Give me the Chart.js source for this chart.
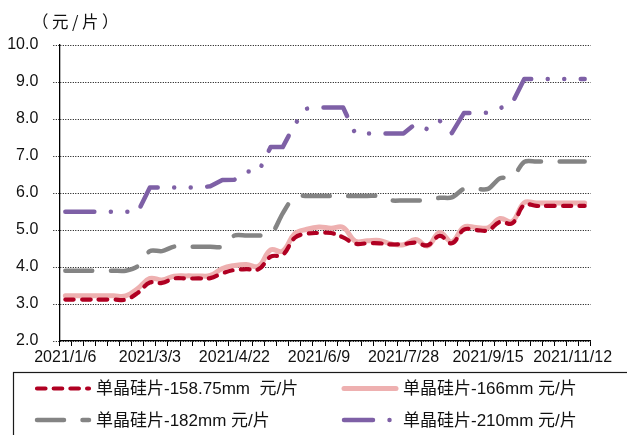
<!DOCTYPE html>
<html>
<head>
<meta charset="utf-8">
<script src="https://cdn.jsdelivr.net/npm/chart.js@4.4.1/dist/chart.umd.min.js"></script>
<style>
  html, body { margin: 0; padding: 0; background: #ffffff; }
  #wrap { width: 627px; height: 435px; position: relative; }
</style>
</head>
<body>
<div id="wrap"><canvas id="c" width="627" height="435"></canvas></div>
<script>
// Weekly quote dates
const dates = [
  '2021/1/6', '2021/1/13', '2021/1/20', '2021/1/27', '2021/2/3', '2021/2/10', '2021/2/24',
  '2021/3/3', '2021/3/10', '2021/3/17', '2021/3/24', '2021/3/31', '2021/4/7', '2021/4/14',
  '2021/4/22', '2021/4/28', '2021/5/6', '2021/5/12', '2021/5/19', '2021/5/26', '2021/6/2',
  '2021/6/9', '2021/6/16', '2021/6/23', '2021/6/30', '2021/7/7', '2021/7/14', '2021/7/21',
  '2021/7/28', '2021/8/4', '2021/8/11', '2021/8/18', '2021/8/25', '2021/9/1', '2021/9/8',
  '2021/9/15', '2021/9/22', '2021/9/29', '2021/10/13', '2021/10/20', '2021/10/27', '2021/11/3',
  '2021/11/12', '2021/11/17'
];
// every 7th date is printed on the axis
const labelStep = 7;

// y axis range (元/片)
const yMin = 2;
const yMax = 10;
const yStep = 1;

// mono-crystalline wafer prices, 元/片
const wafer158 = [
  3.12, 3.12, 3.12, 3.12, 3.12, 3.12, 3.30, 3.58, 3.57, 3.69, 3.69, 3.69, 3.70, 3.83,
  3.92, 3.94, 3.94, 4.28, 4.33, 4.79, 4.90, 4.92, 4.92, 4.80, 4.63, 4.64, 4.64, 4.61,
  4.62, 4.66, 4.59, 4.84, 4.64, 5.01, 5.00, 4.99, 5.22, 5.18, 5.68, 5.65, 5.65, 5.65,
  5.65, 5.65
];
const wafer166 = [
  3.22, 3.22, 3.22, 3.22, 3.22, 3.22, 3.42, 3.69, 3.65, 3.75, 3.76, 3.76, 3.77, 3.96,
  4.04, 4.07, 4.02, 4.46, 4.43, 4.90, 5.02, 5.08, 5.05, 5.07, 4.70, 4.71, 4.72, 4.62,
  4.60, 4.74, 4.57, 4.93, 4.68, 5.08, 5.07, 5.06, 5.31, 5.23, 5.74, 5.73, 5.73, 5.73,
  5.73, 5.73
];
const wafer182 = [
  3.90, 3.90, 3.90, 3.90, 3.90, 3.90, 4.02, 4.43, 4.43, 4.55, 4.55, 4.55, 4.55, 4.55,
  4.85, 4.85, 4.85, 4.87, 5.45, 5.91, 5.92, 5.92, 5.92, 5.92, 5.92, 5.92, 5.92, 5.80,
  5.80, 5.80, 5.80, 5.87, 5.88, 6.11, 6.11, 6.11, 6.40, 6.42, 6.84, 6.85, 6.85, 6.85,
  6.85, 6.85
];
const wafer210 = [
  5.49, 5.49, 5.49, 5.49, 5.49, 5.49, 5.49, 6.15, 6.15, 6.15, 6.15, 6.15, 6.18, 6.35,
  6.36, 6.58, 6.58, 7.24, 7.24, 7.86, 8.28, 8.31, 8.31, 8.31, 7.61, 7.61, 7.61, 7.61,
  7.61, 7.87, 7.72, 7.95, 7.62, 8.16, 8.16, 8.17, 8.29, 8.43, 9.08, 9.08, 9.08, 9.08,
  9.08, 9.08
];

const seriesNames = [
  '单晶硅片-158.75mm  元/片',
  '单晶硅片-166mm 元/片',
  '单晶硅片-182mm 元/片',
  '单晶硅片-210mm 元/片'
];
const unitTitle = '（元/片）';

const LATIN = '"Liberation Sans", Arial, "Noto Sans CJK SC", sans-serif';

// unit caption above the value axis and the boxed two-column key below the plot
const decorations = {
  id: 'decorations',
  afterDraw(chart) {
    const ctx = chart.ctx;
    ctx.save();
    ctx.fillStyle = '#111';
    ctx.font = '16.5px "Noto Sans CJK SC", sans-serif';
    ctx.textBaseline = 'middle';
    ctx.textAlign = 'left';
    ctx.letterSpacing = '3.5px';
    ctx.fillText(unitTitle, 32, 22);
    ctx.letterSpacing = '0px';

    ctx.strokeStyle = '#1a1a1a';
    ctx.lineWidth = 1.2;
    ctx.setLineDash([]);
    ctx.strokeRect(13.5, 372.5, 660, 80);

    const cols = [35, 342];
    const rows = [388.5, 420];
    chart.data.datasets.forEach((ds, i) => {
      const x = cols[i % 2];
      const y = rows[Math.floor(i / 2)];
      ctx.beginPath();
      ctx.setLineDash(ds.borderDash || []);
      ctx.lineDashOffset = 0;
      ctx.lineCap = ds.borderCapStyle || 'butt';
      ctx.lineWidth = ds.borderWidth;
      ctx.strokeStyle = ds.borderColor;
      ctx.moveTo(x + 2, y);
      ctx.lineTo(x + 54, y);
      ctx.stroke();
      ctx.setLineDash([]);
      ctx.fillStyle = '#111';
      ctx.font = '17px ' + LATIN;
      ctx.textBaseline = 'middle';
      ctx.fillText(ds.label, x + 61, y + 1);
    });
    ctx.restore();
  }
};

Chart.defaults.font.family = LATIN;
Chart.defaults.color = '#111';

new Chart(document.getElementById('c'), {
  type: 'line',
  data: {
    labels: dates,
    datasets: [
      {
        label: seriesNames[0], data: wafer158,
        borderColor: 'rgb(176,0,34)', borderWidth: 4.2,
        borderDash: [8.5, 8.2], borderCapStyle: 'round', borderJoinStyle: 'round',
        tension: 0.4, pointRadius: 0, fill: false
      },
      {
        label: seriesNames[1], data: wafer166,
        borderColor: 'rgb(238,176,176)', borderWidth: 5,
        borderCapStyle: 'round', borderJoinStyle: 'round',
        tension: 0.4, pointRadius: 0, fill: false
      },
      {
        label: seriesNames[2], data: wafer182,
        borderColor: 'rgb(132,132,132)', borderWidth: 4.5,
        borderDash: [27, 18.5], borderCapStyle: 'round', borderJoinStyle: 'round',
        tension: 0.3, pointRadius: 0, fill: false
      },
      {
        label: seriesNames[3], data: wafer210,
        borderColor: 'rgb(126,96,166)', borderWidth: 4.5,
        borderDash: [29, 16.5, 0.01, 16.5, 0.01, 16.5], borderCapStyle: 'round', borderJoinStyle: 'round',
        tension: 0, pointRadius: 0, fill: false
      }
    ]
  },
  options: {
    responsive: false,
    animation: false,
    devicePixelRatio: 1,
    layout: { padding: { top: 45, right: 36.3, bottom: 64, left: 0 } },
    plugins: {
      legend: { display: false },
      tooltip: { enabled: false }
    },
    scales: {
      x: {
        type: 'category',
        offset: true,
        grid: {
          display: true, offset: true, drawOnChartArea: false, drawTicks: true,
          tickLength: 5, color: '#000', lineWidth: 1
        },
        border: { display: true, color: '#000', width: 1.3 },
        ticks: {
          autoSkip: false, maxRotation: 0, minRotation: 0, padding: 2,
          color: '#111', font: { size: 16 },
          callback: (v, i) => (i % labelStep === 0 ? dates[i] : '')
        },
        afterFit: (s) => { s.height = 30; }
      },
      y: {
        min: yMin, max: yMax,
        grid: {
          color: '#000', lineWidth: 1, drawTicks: true, tickLength: 6,
          tickBorderDash: [1, 1.5]
        },
        border: { display: true, color: '#000', width: 1.3, dash: [1, 1.5] },
        ticks: {
          stepSize: yStep, padding: 15, color: '#111', font: { size: 16 },
          callback: (v) => Number(v).toFixed(1)
        },
        afterFit: (s) => { s.width = 59.3; }
      }
    }
  },
  plugins: [decorations]
});
</script>
</body>
</html>
